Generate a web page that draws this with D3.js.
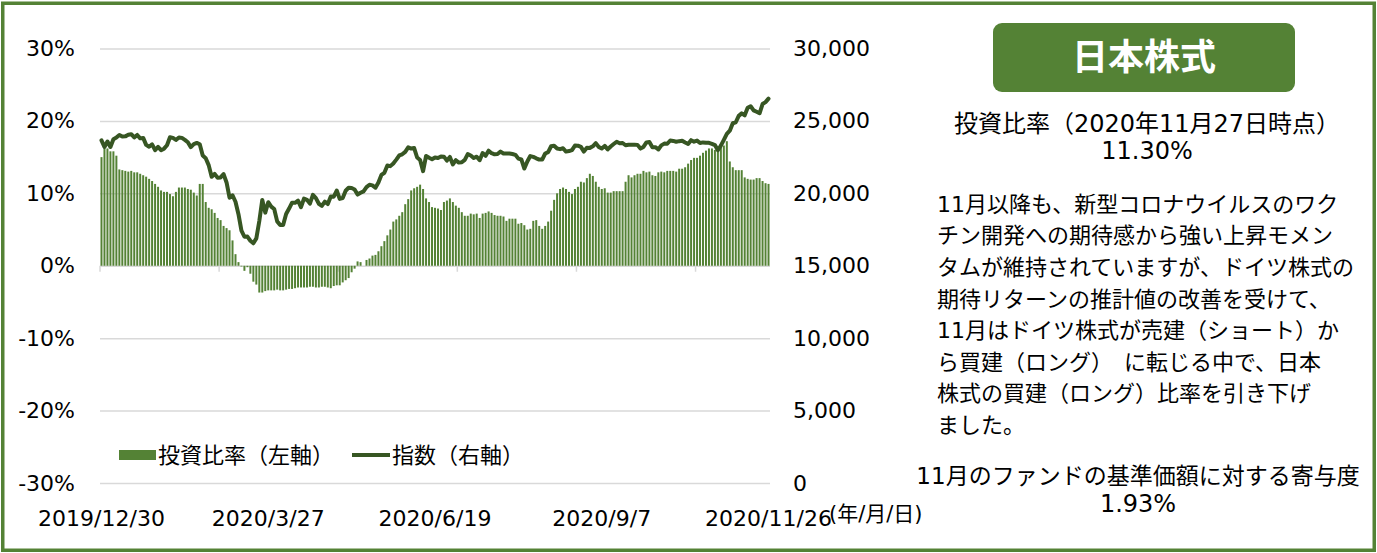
<!DOCTYPE html>
<html lang="ja">
<head>
<meta charset="utf-8">
<title>日本株式</title>
<script src="https://cdn.jsdelivr.net/npm/d3@7"></script>
<style>
  html, body { margin: 0; padding: 0; background: #fff; }
  svg { display: block; }
  text { font-family: "DejaVu Sans", "Noto Sans CJK JP", sans-serif; fill: #000; }
</style>
</head>
<body>
<div id="chart"></div>
<script>
// Categories (business days)
const dates = [
  "2019/12/30",
  "2020/1/6","2020/1/7","2020/1/8","2020/1/9","2020/1/10","2020/1/14","2020/1/15","2020/1/16","2020/1/17","2020/1/20",
  "2020/1/21","2020/1/22","2020/1/23","2020/1/24","2020/1/27","2020/1/28","2020/1/29","2020/1/30","2020/1/31",
  "2020/2/3","2020/2/4","2020/2/5","2020/2/6","2020/2/7","2020/2/10","2020/2/12","2020/2/13","2020/2/14","2020/2/17",
  "2020/2/18","2020/2/19","2020/2/20","2020/2/21","2020/2/25","2020/2/26","2020/2/27","2020/2/28",
  "2020/3/2","2020/3/3","2020/3/4","2020/3/5","2020/3/6","2020/3/9","2020/3/10","2020/3/11","2020/3/12","2020/3/13",
  "2020/3/16","2020/3/17","2020/3/18","2020/3/19","2020/3/23","2020/3/24","2020/3/25","2020/3/26","2020/3/27","2020/3/30","2020/3/31",
  "2020/4/1","2020/4/2","2020/4/3","2020/4/6","2020/4/7","2020/4/8","2020/4/9","2020/4/10","2020/4/13","2020/4/14",
  "2020/4/15","2020/4/16","2020/4/17","2020/4/20","2020/4/21","2020/4/22","2020/4/23","2020/4/24","2020/4/27","2020/4/28","2020/4/30",
  "2020/5/1","2020/5/7","2020/5/8","2020/5/11","2020/5/12","2020/5/13","2020/5/14","2020/5/15","2020/5/18","2020/5/19",
  "2020/5/20","2020/5/21","2020/5/22","2020/5/25","2020/5/26","2020/5/27","2020/5/28","2020/5/29",
  "2020/6/1","2020/6/2","2020/6/3","2020/6/4","2020/6/5","2020/6/8","2020/6/9","2020/6/10","2020/6/11","2020/6/12",
  "2020/6/15","2020/6/16","2020/6/17","2020/6/18","2020/6/19","2020/6/22","2020/6/23","2020/6/24","2020/6/25","2020/6/26","2020/6/29","2020/6/30",
  "2020/7/1","2020/7/2","2020/7/3","2020/7/6","2020/7/7","2020/7/8","2020/7/9","2020/7/10","2020/7/13","2020/7/14",
  "2020/7/15","2020/7/16","2020/7/17","2020/7/20","2020/7/21","2020/7/22","2020/7/23","2020/7/24","2020/7/27","2020/7/28",
  "2020/7/29","2020/7/30","2020/7/31",
  "2020/8/3","2020/8/4","2020/8/5","2020/8/6","2020/8/7","2020/8/10","2020/8/11","2020/8/12","2020/8/13","2020/8/14",
  "2020/8/17","2020/8/18","2020/8/19","2020/8/20","2020/8/21","2020/8/24","2020/8/25","2020/8/26","2020/8/27","2020/8/28","2020/8/31",
  "2020/9/1","2020/9/2","2020/9/3","2020/9/4","2020/9/7","2020/9/8","2020/9/9","2020/9/10","2020/9/11","2020/9/14",
  "2020/9/15","2020/9/16","2020/9/17","2020/9/18","2020/9/21","2020/9/22","2020/9/23","2020/9/24","2020/9/25","2020/9/28","2020/9/29","2020/9/30",
  "2020/10/1","2020/10/2","2020/10/5","2020/10/6","2020/10/7","2020/10/8","2020/10/9","2020/10/12","2020/10/13","2020/10/14",
  "2020/10/15","2020/10/16","2020/10/19","2020/10/20","2020/10/21","2020/10/22","2020/10/23","2020/10/26","2020/10/27","2020/10/28",
  "2020/10/29","2020/10/30",
  "2020/11/2","2020/11/4","2020/11/5","2020/11/6","2020/11/9","2020/11/10","2020/11/11","2020/11/12","2020/11/13","2020/11/16",
  "2020/11/17","2020/11/18","2020/11/19","2020/11/20","2020/11/24","2020/11/25","2020/11/26"
];

// 投資比率 (%, left axis)
const ratio = [
  15.0, 16.2, 16.2, 15.8, 15.8, 15.2, 13.3, 13.2, 13.1, 13.0, 13.1, 12.9, 12.9, 12.7, 12.5, 12.3, 12.0, 11.7, 11.3, 10.9,
  10.4, 10.2, 10.2, 9.9, 9.6, 10.2, 10.8, 10.8, 10.8, 10.6, 10.5, 10.1, 9.7, 11.3, 11.3, 8.8,
  8.0, 7.8, 7.3, 6.6, 6.3, 5.5, 5.2, 4.9, 3.5, 1.6, 0.5, -0.1, -0.7, -0.2, -1.1, -2.2, -2.6,
  -3.7, -3.7, -3.5, -3.4, -3.4, -3.4, -3.3, -3.4, -3.4, -3.3, -3.2, -3.2, -3.1, -3.0, -3.0, -3.0, -3.0, -2.9, -2.9, -3.0,
  -3.0, -2.9, -2.9, -3.0, -3.1, -2.8, -2.7, -2.7, -2.3, -2.0, -1.7, -0.9, -0.4,
  0.6, 0.5, 0.0, 0.8, 1.0, 1.4, 1.5, 2.0, 2.7, 3.4, 4.2, 5.0, 6.1, 6.4, 6.9, 7.4, 8.5, 9.2, 10.4, 10.7, 10.9, 11.2, 10.6, 9.3, 8.8,
  8.1, 8.0, 7.9, 7.7, 8.8, 9.0, 9.3, 8.8, 8.3, 8.0, 7.4, 6.9, 6.9, 7.2, 7.1, 7.2, 6.6, 7.2, 7.3, 7.5,
  7.3, 7.0, 6.9, 6.9, 6.8, 6.2, 6.5, 6.5, 6.5, 5.8, 5.9, 5.6, 5.0, 5.1, 6.2, 6.3,
  5.5, 5.1, 5.5, 6.1, 7.6, 9.1, 10.0, 10.6, 10.8, 10.6, 10.2, 9.9, 10.6, 10.9, 11.6, 11.5, 12.1, 12.7, 12.4, 11.6,
  10.9, 10.6, 10.7, 10.1, 10.1, 10.3, 10.3, 10.3, 10.3, 11.6, 12.5, 12.2, 12.5, 12.7, 12.7,
  13.1, 12.9, 13.0, 12.5, 12.4, 12.9, 13.0, 12.9, 13.1, 13.1, 13.1, 13.0, 13.4, 13.4, 13.6, 14.1, 14.6, 14.9, 14.9, 15.2,
  15.6, 15.9, 16.2, 16.2, 16.0, 16.2, 16.4, 16.6, 17.2, 14.4, 13.6, 13.2, 13.2, 13.2, 12.2, 12.0, 11.9, 11.9, 12.1, 12.1,
  11.7, 11.4, 11.3
];

// 指数 (right axis)
const index = [
  23657,
  23205, 23576, 23205, 23740, 23851, 24025, 23917, 23933, 24041, 24084, 23865, 24031, 23795, 23827, 23344, 23216, 23379, 22978, 23205,
  22972, 23085, 23320, 23874, 23828, 23686, 23861, 23828, 23688, 23523, 23194, 23401, 23479, 23387, 22605, 22426, 21948, 21143,
  21344, 21083, 21100, 21329, 20750, 19699, 19867, 19416, 18560, 17431, 17002, 17012, 16727, 16553, 16888, 18092, 19547, 18665,
  19389, 19085, 18917,
  18065, 17819, 17820, 18576, 18950, 19353, 19346, 19499, 19043, 19639, 19550, 19290, 19897, 19669, 19281, 19138, 19429, 19262,
  19783, 19771, 20194,
  19619, 19675, 20179, 20391, 20366, 20267, 19915, 20037, 20134, 20433, 20595, 20552, 20388, 20742, 21271, 21419, 21916, 21878,
  22062, 22326, 22614, 22696, 22864, 23178, 23091, 23125, 22473, 22305, 21531, 22582, 22456, 22355, 22479, 22437, 22549, 22534,
  22260, 22512, 21995, 22288,
  22122, 22146, 22306, 22714, 22615, 22439, 22529, 22291, 22785, 22587, 22946, 22770, 22696, 22717, 22884, 22752, 22752, 22752,
  22716, 22657, 22397, 22339, 21710,
  22195, 22574, 22515, 22418, 22330, 22330, 22750, 22844, 23250, 23289, 23097, 23051, 23111, 22881, 22920, 22986, 23297, 23291,
  23209, 22883, 23140,
  23138, 23247, 23466, 23205, 23090, 23274, 23033, 23235, 23406, 23559, 23455, 23476, 23319, 23360, 23360, 23360, 23346, 23088,
  23205, 23512, 23539, 23185,
  23185, 23030, 23312, 23434, 23423, 23647, 23620, 23559, 23602, 23627, 23507, 23411, 23671, 23567, 23639, 23474, 23517, 23494,
  23486, 23419, 23332, 22977,
  23295, 23695, 24105, 24325, 24840, 24906, 25350, 25521, 25386, 25907, 26015, 25728, 25634, 25527, 26166, 26297, 26537
];

// Axis ticks and labels
const leftTicks = [-30, -20, -10, 0, 10, 20, 30];
const rightTicks = [0, 5000, 10000, 15000, 20000, 25000, 30000];
const dateLabels = ["2019/12/30", "2020/3/27", "2020/6/19", "2020/9/7", "2020/11/26"];
const tickEvery = 40;

// Side panel texts
const panelTitle = "日本株式";
const ratioCaption = "投資比率（2020年11月27日時点）";
const ratioValue = "11.30%";
const comment = [
  "11月以降も、新型コロナウイルスのワク",
  "チン開発への期待感から強い上昇モメン",
  "タムが維持されていますが、ドイツ株式の",
  "期待リターンの推計値の改善を受けて、",
  "11月はドイツ株式が売建（ショート）か",
  "ら買建（ロング）　に転じる中で、日本",
  "株式の買建（ロング）比率を引き下げ",
  "ました。"
];
const contribCaption = "11月のファンドの基準価額に対する寄与度";
const contribValue = "1.93%";

// Layout
const width = 1377;
const height = 553;
const plot = { left: 100, right: 770, top: 48.5, bottom: 483 };
const green = '#548235';
const darkGreen = '#375623';
const gridColor = '#d9d9d9';

const rows = dates.map((date, i) => ({ date, ratio: ratio[i], index: index[i] }));

const svg = d3.select('#chart')
  .append('svg')
  .attr('width', width)
  .attr('height', height);

// Outer frame
svg.append('rect')
  .attr('x', 2.75)
  .attr('y', 3.25)
  .attr('width', width - 5.5)
  .attr('height', height - 6)
  .attr('fill', 'none')
  .attr('stroke', green)
  .attr('stroke-width', 3.5);

// Scales
const x = d3.scaleBand()
  .domain(dates)
  .range([plot.left, plot.right])
  .paddingInner(0.33)
  .paddingOuter(0.165);

const yL = d3.scaleLinear().domain([-30, 30]).range([plot.bottom, plot.top]);
const yR = d3.scaleLinear().domain([0, 30000]).range([plot.bottom, plot.top]);

// Gridlines
svg.append('g')
  .attr('class', 'grid')
  .attr('transform', `translate(${plot.left},0)`)
  .call(d3.axisLeft(yL).tickValues(leftTicks).tickSize(-(plot.right - plot.left)).tickFormat(''))
  .call(g => g.select('.domain').remove())
  .call(g => g.selectAll('line').attr('stroke', gridColor).attr('stroke-width', 1.5));

// Category tick marks on the zero line
const tickIdx = d3.range(0, dates.length, tickEvery);
svg.append('g')
  .selectAll('line')
  .data(tickIdx)
  .join('line')
  .attr('x1', i => x(dates[i]) - x.step() * x.paddingInner() / 2)
  .attr('x2', i => x(dates[i]) - x.step() * x.paddingInner() / 2)
  .attr('y1', yL(0))
  .attr('y2', yL(0) + 6)
  .attr('stroke', gridColor)
  .attr('stroke-width', 1.5);

// Bars
svg.append('g')
  .attr('class', 'bars')
  .selectAll('rect')
  .data(rows)
  .join('rect')
  .attr('x', d => x(d.date))
  .attr('width', x.bandwidth())
  .attr('y', d => yL(Math.max(0, d.ratio)))
  .attr('height', d => Math.abs(yL(d.ratio) - yL(0)))
  .attr('fill', green);

// Index line
const line = d3.line()
  .x(d => x(d.date) + x.bandwidth() / 2)
  .y(d => yR(d.index));

svg.append('path')
  .datum(rows)
  .attr('d', line)
  .attr('fill', 'none')
  .attr('stroke', darkGreen)
  .attr('stroke-width', 4)
  .attr('stroke-linejoin', 'round')
  .attr('stroke-linecap', 'round');

// Axes
function styleAxis(g, size) {
  g.select('.domain').remove();
  g.attr('font-family', null).attr('font-size', size);
  g.selectAll('text').attr('fill', '#000');
}

svg.append('g')
  .attr('transform', `translate(${plot.left},0)`)
  .call(d3.axisLeft(yL).tickValues(leftTicks).tickSize(0).tickPadding(25).tickFormat(d => d + '%'))
  .call(g => styleAxis(g, 22));

svg.append('g')
  .attr('transform', `translate(${plot.right},0)`)
  .call(d3.axisRight(yR).tickValues(rightTicks).tickSize(0).tickPadding(23).tickFormat(d3.format(',')))
  .call(g => styleAxis(g, 22));

svg.append('g')
  .attr('transform', `translate(0,${plot.bottom})`)
  .call(d3.axisBottom(x).tickValues(dateLabels).tickSize(0).tickPadding(27))
  .call(g => styleAxis(g, 22));

svg.append('text')
  .attr('x', 829)
  .attr('y', 514)
  .attr('dy', '0.35em')
  .attr('font-size', 21)
  .text('(年/月/日)');

// Legend
const legend = svg.append('g').attr('font-size', 22);
legend.append('rect')
  .attr('x', 119).attr('y', 450)
  .attr('width', 37).attr('height', 10)
  .attr('fill', green);
legend.append('text')
  .attr('x', 158).attr('y', 455).attr('dy', '0.35em')
  .text('投資比率（左軸）');
legend.append('line')
  .attr('x1', 352).attr('x2', 390)
  .attr('y1', 455).attr('y2', 455)
  .attr('stroke', darkGreen)
  .attr('stroke-width', 4);
legend.append('text')
  .attr('x', 392).attr('y', 455).attr('dy', '0.35em')
  .text('指数（右軸）');

// Side panel
const panel = svg.append('g');

panel.append('rect')
  .attr('x', 993).attr('y', 23)
  .attr('width', 302).attr('height', 69)
  .attr('rx', 9)
  .attr('fill', green);

panel.append('text')
  .attr('x', 1144).attr('y', 57.5).attr('dy', '0.35em')
  .attr('text-anchor', 'middle')
  .attr('font-size', 36)
  .attr('font-weight', 'bold')
  .style('fill', '#fff')
  .text(panelTitle);

panel.append('text')
  .attr('x', 1147).attr('y', 124).attr('dy', '0.35em')
  .attr('text-anchor', 'middle')
  .attr('font-size', 24)
  .text(ratioCaption);

panel.append('text')
  .attr('x', 1147).attr('y', 151).attr('dy', '0.35em')
  .attr('text-anchor', 'middle')
  .attr('font-size', 24)
  .text(ratioValue);

panel.append('g')
  .attr('font-size', 22)
  .selectAll('text')
  .data(comment)
  .join('text')
  .attr('x', 937)
  .attr('y', (d, i) => 204 + i * 31.6)
  .attr('dy', '0.35em')
  .text(d => d);

panel.append('text')
  .attr('x', 1138).attr('y', 476).attr('dy', '0.35em')
  .attr('text-anchor', 'middle')
  .attr('font-size', 23)
  .text(contribCaption);

panel.append('text')
  .attr('x', 1138).attr('y', 504).attr('dy', '0.35em')
  .attr('text-anchor', 'middle')
  .attr('font-size', 24)
  .text(contribValue);
</script>
</body>
</html>
